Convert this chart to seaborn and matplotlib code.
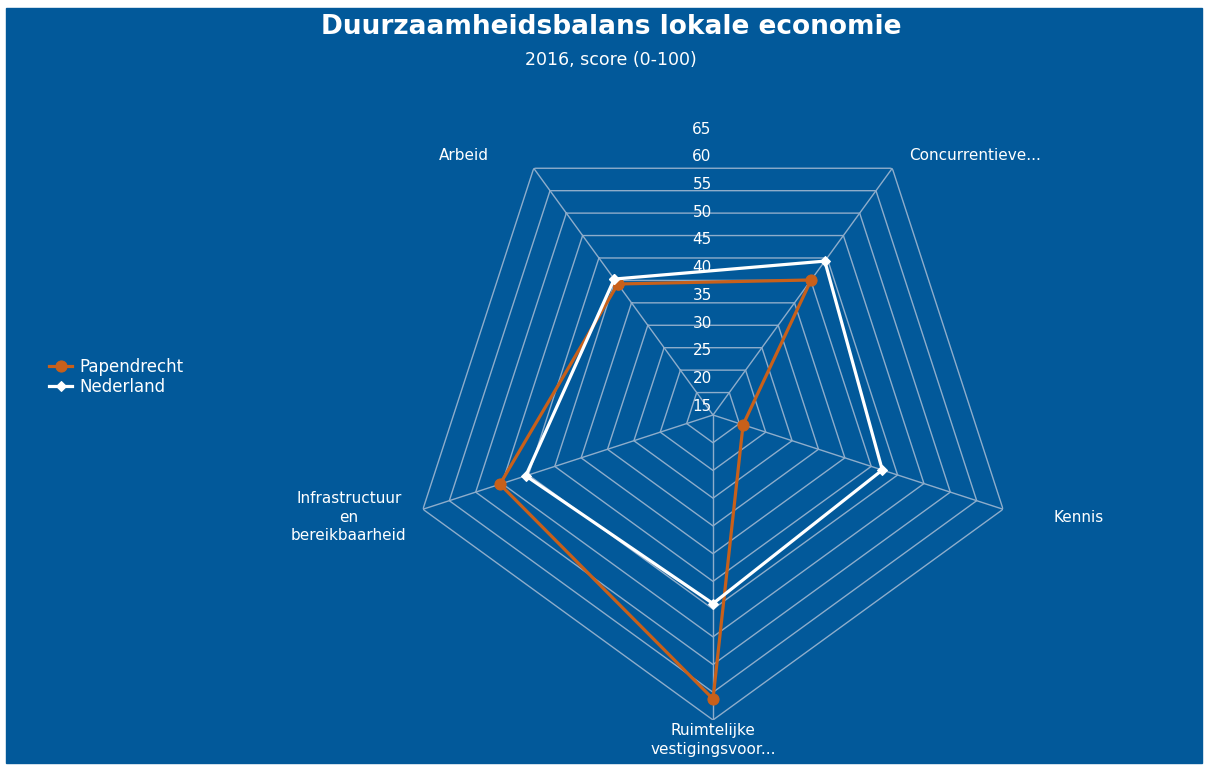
import numpy as np
import pandas as pd
import seaborn as sns
import matplotlib.pyplot as plt
from matplotlib.patches import Rectangle

plt.rcParams['font.family'] = ['DejaVu Sans']

# Colours
BG_COLOR = '#02599a'
ORANGE = '#c8601a'
GRID_COLOR = '#8eadcb'
TEXT_COLOR = 'white'

# Data
categories = ['Arbeid', 'Concurrentieve...', 'Kennis',
              'Ruimtelijke\nvestigingsvoor...', 'Infrastructuur\nen\nbereikbaarheid']
papendrecht = [39.2, 40.1, 15.7, 61.2, 50.4]
nederland = [40.3, 44.3, 42.1, 44.0, 45.5]
ring_values = [15, 20, 25, 30, 35, 40, 45, 50, 55, 60, 65]
r_min, r_max = 10, 65

series = {'Papendrecht': papendrecht, 'Nederland': nederland}
styles = {'Papendrecht': dict(color=ORANGE, marker='o', markersize=8),
          'Nederland': dict(color='white', marker='D', markersize=5)}

# Long form frame, polygon closed by repeating the first point
angles = np.linspace(0, 2 * np.pi, len(categories), endpoint=False)
rows = []
for name, vals in series.items():
    for a, v in zip(list(angles) + [angles[0] + 2 * np.pi], vals + vals[:1]):
        rows.append({'regio': name, 'hoek': a, 'score': v})
df = pd.DataFrame(rows)

fig = plt.figure(figsize=(12.12, 7.67), dpi=100, facecolor='white')
fig.patches.append(Rectangle((6 / 1212, 4 / 767), 1196 / 1212, 755 / 767,
                             transform=fig.transFigure, color=BG_COLOR, zorder=-10))

ax = fig.add_axes([408 / 1212, 47 / 767, 610 / 1212, 610 / 767], projection='polar')
ax.set_facecolor('none')
ax.spines['polar'].set_visible(False)
ax.set_theta_direction(-1)
ax.set_theta_offset(np.deg2rad(126))
ax.set_ylim(r_min, r_max)
ax.grid(False)
ax.set_xticks([])
ax.set_yticks([])

# Pentagon grid and spokes
closed = np.append(angles, angles[0])
for r in ring_values:
    ax.plot(closed, [r] * len(closed), color=GRID_COLOR, lw=1.0, zorder=1)
for a in angles:
    ax.plot([a, a], [r_min, r_max], color=GRID_COLOR, lw=1.0, zorder=1)

# Ring labels along the upward direction
up = np.deg2rad(126 - 90)
for r in ring_values:
    ax.annotate(str(r), xy=(up, r), xytext=(-11, -19), textcoords='offset pixels',
                ha='center', va='center', color=TEXT_COLOR, fontsize=11)

# Category labels
label_offsets = [(-70, 13), (83, 13), (76, -8), (0, -20), (-74, -8)]
for a, lab, off in zip(angles, categories, label_offsets):
    ax.annotate(lab, xy=(a, r_max), xytext=off, textcoords='offset pixels',
                ha='center', va='center', color=TEXT_COLOR, fontsize=11,
                linespacing=1.3, annotation_clip=False)

# Data lines
for name in series:
    st = styles[name]
    sns.lineplot(data=df[df.regio == name], x='hoek', y='score', sort=False,
                 estimator=None, color=st['color'], marker=st['marker'],
                 markersize=st['markersize'], markeredgecolor=st['color'],
                 lw=2.3, label=name, ax=ax, zorder=3)

handles, labels = ax.get_legend_handles_labels()
if ax.get_legend() is not None:
    ax.get_legend().remove()
ax.set_xlabel('')
ax.set_ylabel('')
fig.legend(handles, labels, loc='center left', bbox_to_anchor=(49 / 1212, 1 - 377 / 767),
           frameon=False, fontsize=12, labelcolor=TEXT_COLOR, handlelength=1.4,
           handletextpad=0.4, labelspacing=0.1, borderpad=0, borderaxespad=0)

fig.text(0.504, 1 - 27 / 767, 'Duurzaamheidsbalans lokale economie', ha='center', va='center',
         color=TEXT_COLOR, fontsize=19, fontweight='bold')
fig.text(0.504, 1 - 60 / 767, '2016, score (0-100)', ha='center', va='center',
         color=TEXT_COLOR, fontsize=12.5)

fig.savefig('out.png', dpi=100, facecolor='white')
